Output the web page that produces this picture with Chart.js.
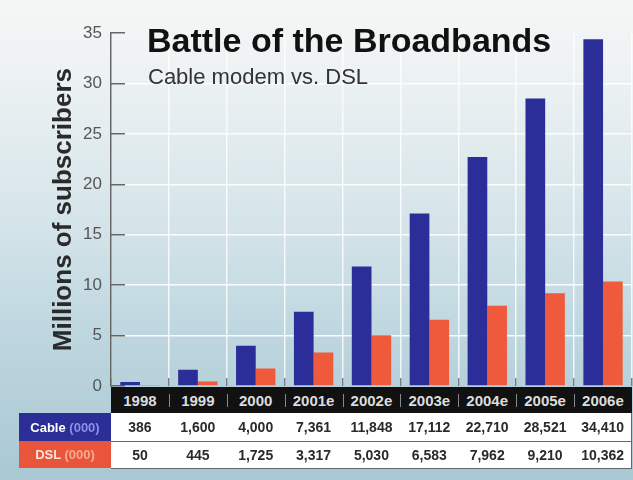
<!DOCTYPE html>
<html>
<head>
<meta charset="utf-8">
<title>Battle of the Broadbands</title>
<script src="https://cdn.jsdelivr.net/npm/chart.js@4.4.0/dist/chart.umd.min.js"></script>
<style>
    html, body { margin: 0; padding: 0; }
    body {
        width: 633px; height: 480px; overflow: hidden;
        font-family: "Liberation Sans", Arial, sans-serif;
        background: linear-gradient(to bottom, #f5f6f6 0%, #edf2f3 15%, #d6e5ea 45%, #bcd5de 72%, #a9c8d3 100%);
    }
    #wrap { position: relative; width: 633px; height: 480px; }
    #chart { position: absolute; left: 0; top: 0; }
    .title {
        position: absolute; left: 147px; top: 23px;
        font-size: 34px; line-height: 34px; font-weight: bold; color: #111;
        white-space: nowrap;
    }
    .subtitle {
        position: absolute; left: 148px; top: 66px;
        font-size: 22px; line-height: 22px; color: #333;
        white-space: nowrap;
    }
    #tbl {
        position: absolute; left: 19px; top: 387px;
        border-collapse: collapse; table-layout: fixed;
    }
    #tbl th, #tbl td { padding: 0; text-align: center; overflow: hidden; white-space: nowrap; }
    #tbl tr.head { height: 26px; }
    #tbl tr.cable { height: 28px; }
    #tbl tr.dsl { height: 27px; }
    #tbl th.blank { background: transparent; }
    #tbl th.year {
        /* black header with short grey separators */
        background: linear-gradient(#8a8a8a, #8a8a8a) left center / 1px 13px no-repeat, #111;
        color: #dcdcdc; font-size: 15px; font-weight: bold;
    }
    #tbl th.year.first { background: #111; }
    #tbl td.val {
        background: #fff; color: #2a2a2a; font-size: 14px; font-weight: bold;
        border-bottom: 1px solid #666;
    }
    #tbl td.val.last { border-right: 1px solid #666; }
    #tbl td.lab { font-size: 13px; font-weight: bold; color: #fff; }
    #tbl tr.cable td.lab { background: #2b2e96; }
    #tbl tr.cable td.lab span { color: #8c90e6; }
    #tbl tr.dsl td.lab { background: #e9553a; color: #fde6de; }
    #tbl tr.dsl td.lab span { color: #f7a890; }
</style>
</head>
<body>
<div id="wrap">
    <canvas id="chart" width="633" height="480"></canvas>
    <div class="title">Battle of the Broadbands</div>
    <div class="subtitle">Cable modem vs. DSL</div>
    <table id="tbl"></table>
</div>
<script>
// --- DATA ---
const years = ['1998', '1999', '2000', '2001e', '2002e', '2003e', '2004e', '2005e', '2006e'];
// subscribers in thousands, as printed in the table
const cableK = [386, 1600, 4000, 7361, 11848, 17112, 22710, 28521, 34410];
const dslK = [50, 445, 1725, 3317, 5030, 6583, 7962, 9210, 10362];
const yTicks = [0, 5, 10, 15, 20, 25, 30, 35];

const blue = '#2b2e98';
const red = '#ef5a3c';

let tableBuilt = false;

// Table under the plot, columns lined up with the category scale
function buildTable(chart) {
    const area = chart.chartArea;
    const colW = (area.right - area.left) / years.length;
    const labW = area.left - 19;
    const fmt = v => v.toLocaleString('en-US');

    let html = '<colgroup><col style="width:' + labW + 'px">';
    years.forEach(() => { html += '<col style="width:' + colW + 'px">'; });
    html += '</colgroup>';

    html += '<tr class="head"><th class="blank"></th>' +
        years.map((y, i) => `<th class="year${i === 0 ? ' first' : ''}">${y}</th>`).join('') + '</tr>';
    html += '<tr class="cable"><td class="lab">Cable <span>(000)</span></td>' +
        cableK.map((v, i) => `<td class="val${i === years.length - 1 ? ' last' : ''}">${fmt(v)}</td>`).join('') + '</tr>';
    html += '<tr class="dsl"><td class="lab">DSL <span>(000)</span></td>' +
        dslK.map((v, i) => `<td class="val${i === years.length - 1 ? ' last' : ''}">${fmt(v)}</td>`).join('') + '</tr>';

    const tbl = document.getElementById('tbl');
    tbl.innerHTML = html;
    tbl.style.width = (labW + colW * years.length) + 'px';
}

const tablePlugin = {
    id: 'dataTable',
    afterRender(chart) {
        if (tableBuilt) return;
        tableBuilt = true;
        buildTable(chart);
    }
};

const ctx = document.getElementById('chart').getContext('2d');
new Chart(ctx, {
    type: 'bar',
    data: {
        labels: years,
        datasets: [
            { label: 'Cable', data: cableK.map(v => v / 1000), backgroundColor: blue },
            { label: 'DSL', data: dslK.map(v => v / 1000), backgroundColor: red }
        ]
    },
    options: {
        responsive: false,
        animation: false,
        categoryPercentage: 0.68,
        barPercentage: 1.0,
        layout: { padding: { top: 20, right: 1, bottom: 0, left: 0 } },
        plugins: {
            legend: { display: false },
            tooltip: { enabled: false }
        },
        scales: {
            x: {
                border: { display: false },
                ticks: { display: false },
                grid: {
                    color: 'rgba(255,255,255,0.8)',
                    lineWidth: 1.5,
                    tickLength: -8,
                    tickColor: '#667',
                    tickWidth: 1.2
                },
                afterFit: s => { s.height = 94; }
            },
            y: {
                min: 0,
                max: 35,
                afterBuildTicks: s => { s.ticks = yTicks.map(v => ({ value: v })); },
                border: { display: true, color: '#666', width: 1.5 },
                grid: {
                    color: c => (c.tick && (c.tick.value === 0 || c.tick.value === 35)) ? 'rgba(0,0,0,0)' : 'rgba(255,255,255,0.9)',
                    lineWidth: 1.5,
                    tickLength: -14,
                    tickColor: '#666',
                    tickWidth: 1.5
                },
                ticks: {
                    padding: 23,
                    color: '#555',
                    font: { family: '"Liberation Sans", Arial, sans-serif', size: 17 }
                },
                title: {
                    display: true,
                    text: 'Millions of subscribers',
                    color: '#2a2a2a',
                    padding: { top: 48, bottom: 0 },
                    font: { family: '"Liberation Sans", Arial, sans-serif', size: 26, weight: 'bold' }
                },
                afterFit: s => { s.width = 111; }
            }
        }
    },
    plugins: [tablePlugin]
});
</script>
</body>
</html>
